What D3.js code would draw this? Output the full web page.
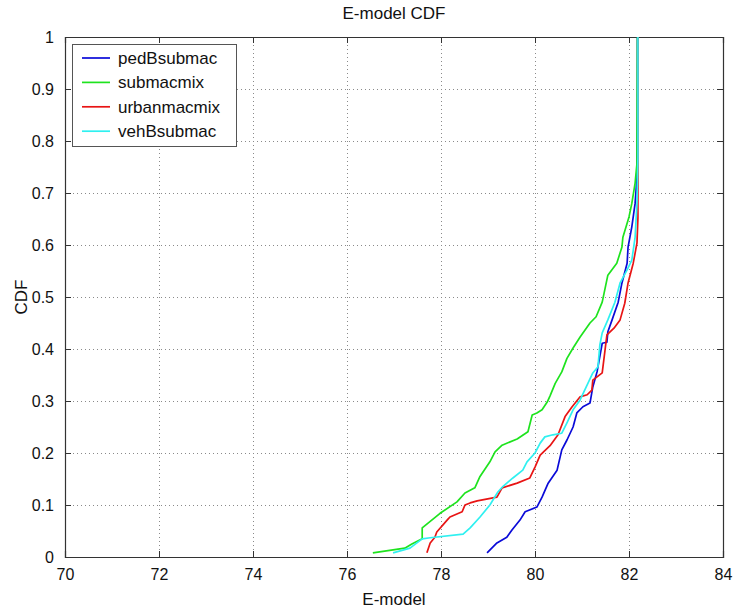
<!DOCTYPE html>
<html>
<head>
<meta charset="utf-8">
<script src="https://cdn.jsdelivr.net/npm/d3@7"></script>
<style>
  html, body { margin: 0; padding: 0; background: #fff; }
  svg { display: block; font-family: "Liberation Sans", Arial, Helvetica, sans-serif; }
</style>
</head>
<body>
<svg id="chart" width="734" height="611"></svg>
<script>
// Empirical CDFs of the E-model score for four scenarios
const seriesNames = ["pedBsubmac", "submacmix", "urbanmacmix", "vehBsubmac"];
const seriesColors = ["#0a0ad8", "#1ee31e", "#e81414", "#2ff0f0"];

const pedX = [78.98, 79.19, 79.4, 79.51, 79.68, 79.79, 80.04, 80.15, 80.28, 80.47, 80.57, 80.68, 80.81, 80.89, 81.02, 81.17, 81.23, 81.32, 81.43, 81.53, 81.55, 81.64, 81.77, 81.85, 81.96, 81.98, 82.06, 82.13, 82.17, 82.18, 82.18];
const pedY = [0.008, 0.027, 0.038, 0.052, 0.071, 0.087, 0.096, 0.115, 0.142, 0.167, 0.206, 0.225, 0.25, 0.277, 0.289, 0.296, 0.327, 0.356, 0.411, 0.413, 0.433, 0.456, 0.49, 0.527, 0.565, 0.596, 0.635, 0.68, 0.73, 0.85, 1.0];

const subX = [76.55, 77.23, 77.38, 77.6, 77.6, 77.98, 78.34, 78.51, 78.72, 78.83, 79.04, 79.15, 79.3, 79.62, 79.85, 79.94, 80.04, 80.15, 80.26, 80.32, 80.43, 80.57, 80.68, 80.81, 80.96, 81.17, 81.3, 81.43, 81.55, 81.74, 81.85, 81.87, 82.0, 82.06, 82.13, 82.17, 82.17, 82.18];
const subY = [0.008, 0.017, 0.025, 0.035, 0.056, 0.084, 0.106, 0.123, 0.133, 0.155, 0.183, 0.202, 0.215, 0.227, 0.241, 0.273, 0.277, 0.283, 0.298, 0.31, 0.334, 0.356, 0.382, 0.402, 0.423, 0.45, 0.462, 0.49, 0.542, 0.565, 0.596, 0.615, 0.654, 0.68, 0.719, 0.757, 0.796, 1.0];

const urbX = [77.7, 77.77, 77.87, 77.91, 78.13, 78.19, 78.45, 78.51, 78.62, 78.77, 79.19, 79.3, 79.62, 79.89, 80.0, 80.11, 80.32, 80.49, 80.64, 80.79, 80.96, 81.11, 81.21, 81.23, 81.43, 81.49, 81.53, 81.68, 81.81, 81.91, 81.98, 82.09, 82.17, 82.19, 82.19];
const urbY = [0.008, 0.027, 0.038, 0.048, 0.071, 0.077, 0.087, 0.1, 0.104, 0.108, 0.115, 0.133, 0.142, 0.152, 0.173, 0.196, 0.214, 0.235, 0.27, 0.289, 0.308, 0.312, 0.321, 0.34, 0.354, 0.398, 0.427, 0.44, 0.456, 0.488, 0.527, 0.565, 0.604, 0.652, 1.0];

const vehX = [76.98, 77.34, 77.6, 77.77, 78.47, 78.62, 78.83, 79.04, 79.21, 79.32, 79.53, 79.74, 79.83, 80.0, 80.11, 80.21, 80.38, 80.57, 80.68, 80.81, 80.96, 81.11, 81.23, 81.34, 81.38, 81.43, 81.55, 81.7, 81.81, 81.96, 82.06, 82.13, 82.17, 82.19, 82.19];
const vehY = [0.008, 0.017, 0.035, 0.037, 0.044, 0.056, 0.077, 0.1, 0.125, 0.136, 0.152, 0.167, 0.183, 0.2, 0.219, 0.231, 0.235, 0.238, 0.258, 0.283, 0.302, 0.331, 0.354, 0.366, 0.408, 0.431, 0.456, 0.49, 0.527, 0.552, 0.571, 0.615, 0.68, 0.769, 1.0];

const xTicks = [70, 72, 74, 76, 78, 80, 82, 84];
const yTicks = [0, 0.1, 0.2, 0.3, 0.4, 0.5, 0.6, 0.7, 0.8, 0.9, 1];
const yTickLabels = ["0", "0.1", "0.2", "0.3", "0.4", "0.5", "0.6", "0.7", "0.8", "0.9", "1"];

const seriesX = [pedX, subX, urbX, vehX];
const seriesY = [pedY, subY, urbY, vehY];

const margin = { left: 65, right: 11, top: 37, bottom: 54 };
const W = 734, H = 611;
const svg = d3.select("#chart");

const x = d3.scaleLinear().domain([70, 84]).range([margin.left, W - margin.right]);
const y = d3.scaleLinear().domain([0, 1]).range([H - margin.bottom, margin.top]);

// dotted grid
const grid = svg.append("g").attr("stroke", "#8a8a8a").attr("stroke-width", 1)
  .attr("stroke-dasharray", "1,3").attr("shape-rendering", "crispEdges");
grid.selectAll("line.gx").data(xTicks.slice(1, -1)).join("line")
  .attr("x1", d => Math.round(x(d)) + 0.5).attr("x2", d => Math.round(x(d)) + 0.5)
  .attr("y1", y(1)).attr("y2", y(0));
grid.selectAll("line.gy").data(yTicks.slice(1, -1)).join("line")
  .attr("y1", d => Math.round(y(d)) + 0.5).attr("y2", d => Math.round(y(d)) + 0.5)
  .attr("x1", x(70)).attr("x2", x(84));

// axes with inward ticks on all four sides
const tickLen = 6;
const fmtY = d => yTickLabels[yTicks.indexOf(d)];
const axB = svg.append("g").attr("transform", `translate(0,${y(0)})`)
  .call(d3.axisBottom(x).tickValues(xTicks).tickSize(-tickLen).tickPadding(12).tickFormat(d3.format("d")));
const axT = svg.append("g").attr("transform", `translate(0,${y(1)})`)
  .call(d3.axisTop(x).tickValues(xTicks).tickSize(-tickLen).tickFormat(""));
const axL = svg.append("g").attr("transform", `translate(${x(70)},0)`)
  .call(d3.axisLeft(y).tickValues(yTicks).tickSize(-tickLen).tickPadding(11).tickFormat(fmtY));
const axR = svg.append("g").attr("transform", `translate(${x(84)},0)`)
  .call(d3.axisRight(y).tickValues(yTicks).tickSize(-tickLen).tickFormat(""));
[axB, axT, axL, axR].forEach(a => {
  a.select(".domain").attr("stroke", "#333").attr("stroke-width", 1.2);
  a.selectAll(".tick line").attr("stroke", "#333");
  a.selectAll("text").attr("fill", "#111").attr("font-size", 16)
    .attr("font-family", "Liberation Sans, Arial, sans-serif");
});

// curves
const line = d3.line().x(d => x(d[0])).y(d => y(d[1]));
const curves = svg.append("g").attr("fill", "none").attr("stroke-width", 1.7)
  .attr("stroke-linejoin", "round");
seriesNames.forEach((name, i) => {
  const pts = seriesX[i].map((v, k) => [v, seriesY[i][k]]);
  curves.append("path").datum(pts).attr("d", line).attr("stroke", seriesColors[i]);
});

// titles
svg.append("text").attr("x", (x(70) + x(84)) / 2).attr("y", 19).attr("text-anchor", "middle")
  .attr("font-size", 17).attr("fill", "#111").text("E-model CDF");
svg.append("text").attr("x", (x(70) + x(84)) / 2).attr("y", 605).attr("text-anchor", "middle")
  .attr("font-size", 17).attr("fill", "#111").text("E-model");
svg.append("text").attr("transform", `translate(27,${(y(0) + y(1)) / 2}) rotate(-90)`)
  .attr("text-anchor", "middle").attr("font-size", 17).attr("fill", "#111").text("CDF");

// legend
const lg = svg.append("g").attr("transform", "translate(72,44)");
lg.append("rect").attr("x", 0.5).attr("y", 0.5).attr("width", 164).attr("height", 102)
  .attr("fill", "#fff").attr("stroke", "#555").attr("stroke-width", 1);
seriesNames.forEach((name, i) => {
  const cy = 14 + i * 24.4;
  lg.append("line").attr("x1", 10).attr("x2", 38).attr("y1", cy).attr("y2", cy)
    .attr("stroke", seriesColors[i]).attr("stroke-width", 1.7);
  lg.append("text").attr("x", 46).attr("y", cy + 6).attr("font-size", 17)
    .attr("fill", "#111").text(name);
});
</script>
</body>
</html>
